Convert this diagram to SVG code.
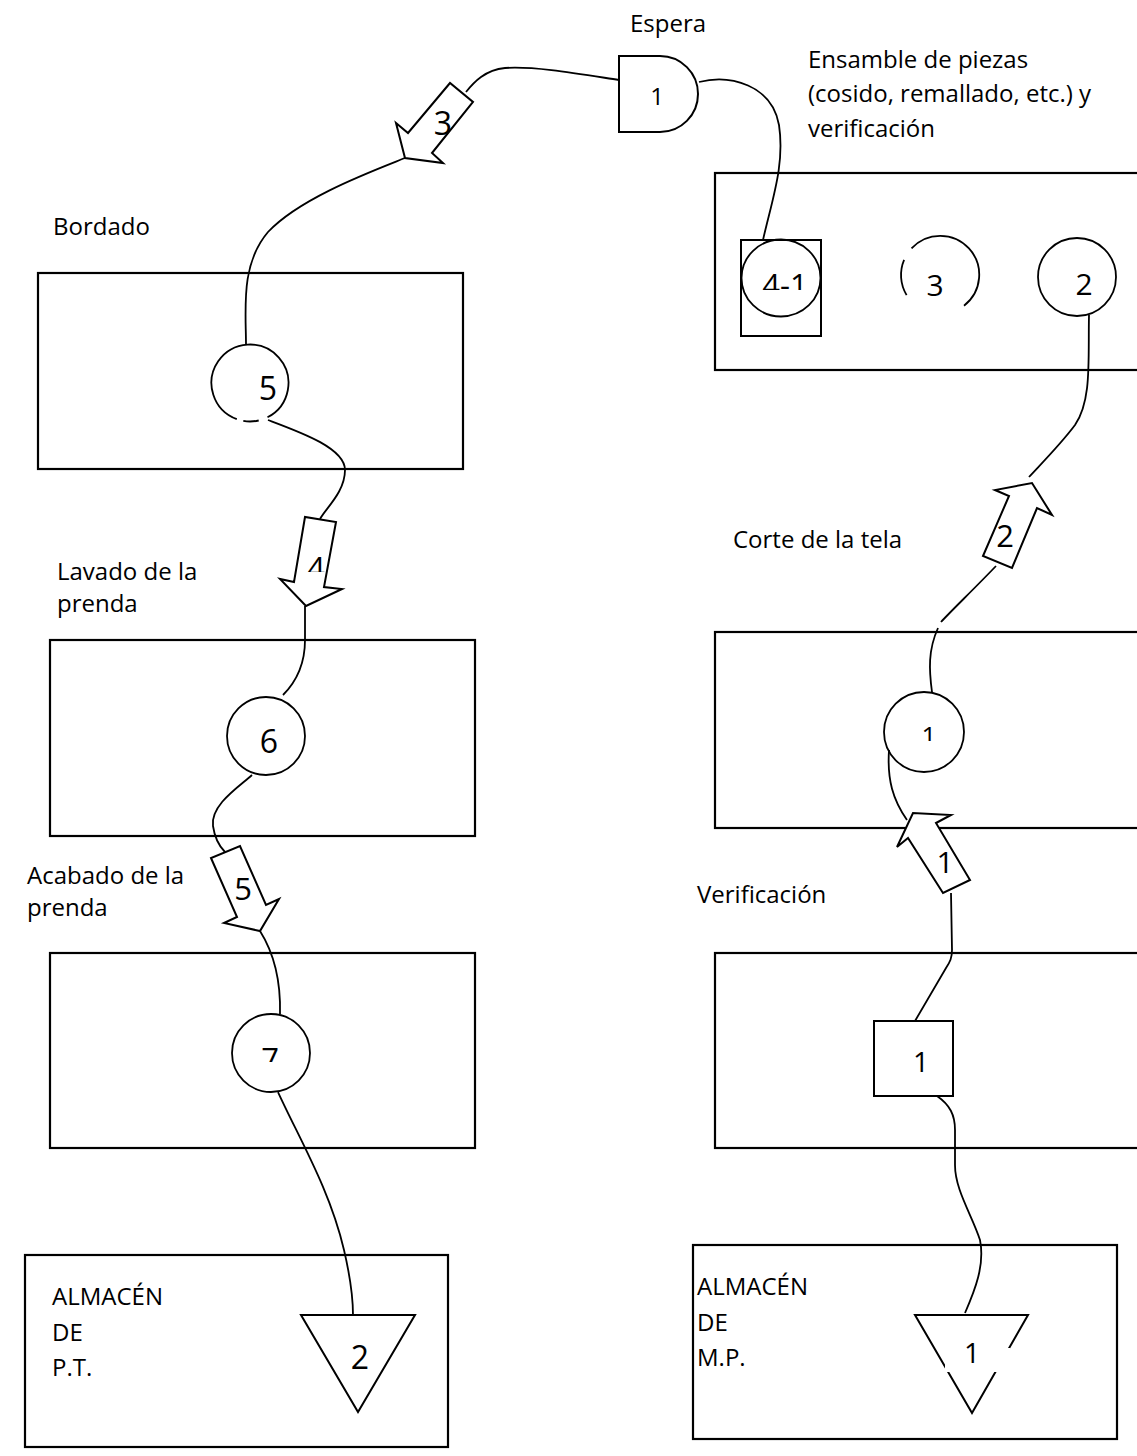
<svg xmlns="http://www.w3.org/2000/svg" width="1137" height="1456" viewBox="0 0 1137 1456">
<style>
.box{fill:none;stroke:#000;stroke-width:2.2}
.shp{fill:#fff;stroke:#000;stroke-width:2}
.ln{fill:none;stroke:#000;stroke-width:1.8}
.lbl{font-family:"Open Sans","Noto Sans",sans-serif;font-size:24px;fill:#000}
.num{font-family:"Open Sans","Noto Sans",sans-serif;font-size:31px;fill:#000;text-anchor:middle}
</style>
<defs>
<clipPath id="c41"><rect x="740" y="250" width="90" height="40"/></clipPath>
<clipPath id="c4"><rect x="290" y="540" width="60" height="32"/></clipPath>
<clipPath id="c1c"><rect x="900" y="710" width="60" height="31"/></clipPath>
<clipPath id="c7"><rect x="240" y="1030" width="60" height="32"/></clipPath>
</defs>
<rect width="1137" height="1456" fill="#fff"/>

<g id="connectors">
<path class="ln" d="M699,82 C730,74 772,85 779,125 C785,165 772,200 763,240"/>
<path class="ln" d="M619,80 C580,74 535,66 505,68 C485,70 474,82 466,92"/>
<path class="ln" d="M405,158 C370,172 300,198 268,232 C240,265 246,310 246,345"/>
<path class="ln" d="M268,420 C300,432 345,448 345,470 C345,492 326,508 320,519"/>
<path class="ln" d="M305,606 L305,640 C305,665 296,682 283,695"/>
<path class="ln" d="M252,775 C240,786 210,805 213,826 C215,840 221,848 225,852"/>
<path class="ln" d="M260,931 C272,950 281,975 280,1014"/>
<path class="ln" d="M278,1092 C300,1140 330,1190 344,1250 C351,1280 353,1300 353,1315"/>
<path class="ln" d="M1089,315 C1088,360 1092,400 1075,425 C1060,445 1040,465 1029,477"/>
<path class="ln" d="M996,566 C975,588 950,612 941,622"/>
<path class="ln" d="M938,628 C928,650 929,670 932,692"/>
<path class="ln" d="M889,750 C887,780 893,800 907,820"/>
<path class="ln" d="M951,893 L952,950 C952,958 950,962 946,968 L915,1021"/>
<path class="ln" d="M937,1096 C950,1105 955,1115 955,1130 L955,1165 C955,1190 972,1215 980,1240 C985,1265 975,1290 965,1313"/>
</g>

<g id="label-espera"><text class="lbl" x="630" y="32">Espera</text></g>
<g id="label-ensamble">
<text class="lbl" x="808" y="68">Ensamble de piezas</text>
<text class="lbl" x="808" y="102">(cosido, remallado, etc.) y</text>
<text class="lbl" x="808" y="137">verificación</text>
</g>
<g id="label-bordado"><text class="lbl" x="53" y="235">Bordado</text></g>
<g id="label-lavado">
<text class="lbl" x="57" y="580">Lavado de la</text>
<text class="lbl" x="57" y="612">prenda</text>
</g>
<g id="label-corte"><text class="lbl" x="733" y="548">Corte de la tela</text></g>
<g id="label-acabado">
<text class="lbl" x="27" y="884">Acabado de la</text>
<text class="lbl" x="27" y="916">prenda</text>
</g>
<g id="label-verificacion"><text class="lbl" x="697" y="903">Verificación</text></g>

<g id="box-ensamble"><rect class="box" x="715" y="173" width="440" height="197"/></g>
<g id="box-bordado"><rect class="box" x="38" y="273" width="425" height="196"/></g>
<g id="box-lavado"><rect class="box" x="50" y="640" width="425" height="196"/></g>
<g id="box-corte"><rect class="box" x="715" y="632" width="440" height="196"/></g>
<g id="box-acabado"><rect class="box" x="50" y="953" width="425" height="195"/></g>
<g id="box-verificacion"><rect class="box" x="715" y="953" width="440" height="195"/></g>
<g id="box-almacen-pt">
<rect class="box" x="25" y="1255" width="423" height="192"/>
<text class="lbl" x="52" y="1305">ALMACÉN</text>
<text class="lbl" x="52" y="1341">DE</text>
<text class="lbl" x="52" y="1376">P.T.</text>
</g>
<g id="box-almacen-mp">
<rect class="box" x="693" y="1245" width="424" height="194"/>
<text class="lbl" x="697" y="1295">ALMACÉN</text>
<text class="lbl" x="697" y="1331">DE</text>
<text class="lbl" x="697" y="1366">M.P.</text>
</g>

<g id="espera-1">
<path class="shp" d="M619,56 L660,56 A38,38 0 0 1 660,132 L619,132 Z"/>
<text class="num" x="657" y="105" style="font-size:24px">1</text>
</g>
<g id="arrow-3">
<polygon class="shp" points="450,83 408,133 396,123 405,158 443,163 432,153 473,102"/>
<text class="num" x="443" y="135" style="font-size:32px">3</text>
</g>
<g id="op-5">
<path class="ln" d="M267.5,417.3 A38.5,38.5 0 1 0 236.8,419.2"/>
<path class="ln" d="M243.3,420.9 A38.5,38.5 0 0 0 258.7,420.5"/>
<text class="num" x="268" y="400" style="font-size:32px">5</text>
</g>
<g id="arrow-4">
<polygon class="shp" points="305,517 294,582 280,579 306,606 342,589 324,587 336,522"/>
<text class="num" x="316" y="579" clip-path="url(#c4)">4</text>
</g>
<g id="op-6">
<circle class="ln" cx="266" cy="736" r="39"/>
<text class="num" x="269" y="753" style="font-size:32px">6</text>
</g>
<g id="arrow-5">
<polygon class="shp" points="211,858 237,917 224,923 260,931 279,899 266,905 240,846"/>
<text class="num" x="243" y="900">5</text>
</g>
<g id="op-7">
<circle class="ln" cx="271" cy="1053" r="39"/>
<text class="num" x="270" y="1070" clip-path="url(#c7)">7</text>
</g>
<g id="store-2">
<polygon class="shp" points="301,1315 415,1315 358,1412"/>
<text class="num" x="360" y="1369" style="font-size:32px">2</text>
</g>

<g id="op-4-1">
<rect class="shp" x="741" y="240" width="80" height="96"/>
<ellipse class="ln" cx="781" cy="278" rx="39.5" ry="38.5"/>
<text class="num" x="785" y="296" clip-path="url(#c41)">4-1</text>
</g>
<g id="op-3">
<path class="ln" d="M911.5,248.4 A39,39 0 1 1 964,305.7"/>
<path class="ln" d="M906.6,295.1 A39,39 0 0 1 904.1,259.8"/>
<text class="num" x="935" y="296" style="font-size:30px">3</text>
</g>
<g id="op-2">
<circle class="ln" cx="1077" cy="277" r="39"/>
<text class="num" x="1084" y="295" style="font-size:30px">2</text>
</g>
<g id="arrow-2">
<polygon class="shp" points="983,556 1009,496 995,490 1032,483 1052,515 1037,508 1012,568"/>
<text class="num" x="1005" y="547">2</text>
</g>
<g id="op-1">
<circle class="ln" cx="924" cy="732" r="40"/>
<text class="num" x="929" y="745" style="font-size:26px" clip-path="url(#c1c)">1</text>
</g>
<g id="arrow-1">
<polygon class="shp" points="943,893 908,838 897,847 913,813 951,815 936,823 970,880"/>
<text class="num" x="945" y="873" style="font-size:30px">1</text>
</g>
<g id="insp-1">
<rect class="shp" x="874" y="1021" width="79" height="75"/>
<text class="num" x="921" y="1072" style="font-size:28px">1</text>
</g>
<g id="store-1">
<polygon class="shp" points="915,1315 1028,1315 972,1413"/>
<rect x="945" y="1348" width="65" height="24" fill="#fff"/>
<text class="num" x="972" y="1363" style="font-size:28px">1</text>
</g>
</svg>
